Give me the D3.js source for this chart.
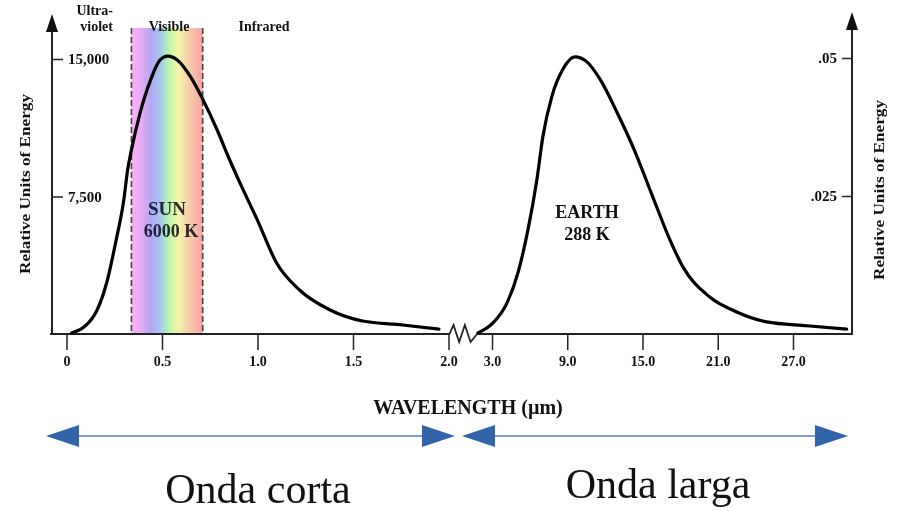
<!DOCTYPE html>
<html>
<head>
<meta charset="utf-8">
<script src="https://cdn.jsdelivr.net/npm/d3@7"></script>
<style>
	body { margin: 0; background: #fff; }
	svg { font-family: 'Liberation Serif', 'Times New Roman', serif; }
	.tick text { font-family: 'Liberation Serif', 'Times New Roman', serif; font-weight: bold; font-size: 14px; fill: #111; }
	.tick line { stroke: #222; stroke-width: 1.5; }
	.lbl { font-weight: bold; fill: #111; }
</style>
</head>
<body>
<script>
// short-wave (sun) curve, wavelength in µm and relative energy
const sunWavelength = [0.027, 0.14, 0.21, 0.26, 0.3, 0.32, 0.34, 0.385, 0.44, 0.49, 0.53, 0.58, 0.65, 0.71, 0.79, 0.85, 0.91, 1.0, 1.1, 1.22, 1.38, 1.55, 1.76, 1.95];
const sunEnergy = [50, 930, 2780, 5130, 7310, 8950, 10040, 12050, 13850, 14950, 15160, 14950, 14020, 12870, 11100, 9600, 8200, 6200, 3870, 2400, 1310, 710, 490, 270];

// long-wave (earth) curve
const earthWavelength = [1.88, 3.08, 4.19, 5.07, 5.87, 6.58, 7.06, 7.78, 8.66, 9.61, 10.57, 11.6, 13.04, 14.39, 15.74, 17.18, 18.21, 20.36, 22.51, 24.9, 28.09, 31.28];
const earthEnergy = [0.0002, 0.002, 0.0056, 0.0111, 0.0189, 0.028, 0.0358, 0.0431, 0.048, 0.0502, 0.0493, 0.0462, 0.0398, 0.0331, 0.0253, 0.0171, 0.0122, 0.0067, 0.004, 0.0022, 0.0015, 0.0009];

const shortTicks = [0, 0.5, 1.0, 1.5, 2.0];
const longTicks = [3, 9, 15, 21, 27];
const leftTicks = [7500, 15000];
const rightTicks = [0.025, 0.05];
const rightTickLabels = ['.025', '.05'];
const visibleBand = [0.34, 0.713];

const width = 900;
const height = 511;
const base = 334;

const svg = d3
	.select('body')
	.append('svg')
	.attr('width', width)
	.attr('height', height);

const xShort = d3.scaleLinear().domain([0, 2]).range([66.5, 448.5]);
const xLong = d3.scaleLinear().domain([3, 27]).range([492, 793]);
const yLeft = d3.scaleLinear().domain([0, 15000]).range([base, 59]);
const yRight = d3.scaleLinear().domain([0, 0.05]).range([base, 58]);

const leftAxisX = 52;
const rightAxisX = 852;

// rainbow band for visible light
const defs = svg.append('defs');
const grad = defs.append('linearGradient').attr('id', 'rainbow');
[
	[0, '#fbb0fa'], [0.12, '#eeaaf6'], [0.28, '#b0a8f2'], [0.4, '#a8c4ee'],
	[0.48, '#a8ecc0'], [0.56, '#ccf6a6'], [0.66, '#f6f4ac'], [0.8, '#f8d0aa'], [1, '#f8a2a2'],
].forEach(s => grad.append('stop').attr('offset', s[0]).attr('stop-color', s[1]));

svg
	.append('rect')
	.attr('x', xShort(visibleBand[0]))
	.attr('y', 28)
	.attr('width', xShort(visibleBand[1]) - xShort(visibleBand[0]))
	.attr('height', base - 28)
	.style('fill', 'url(#rainbow)');

visibleBand.forEach(v => {
	svg
		.append('line')
		.attr('x1', xShort(v))
		.attr('x2', xShort(v))
		.attr('y1', 28)
		.attr('y2', base)
		.attr('stroke', '#444')
		.attr('stroke-width', 1.6)
		.attr('stroke-dasharray', '6,3');
});

// x axes
svg
	.append('g')
	.attr('transform', `translate(0,${base})`)
	.call(d3.axisBottom(xShort).tickValues(shortTicks).tickSize(16).tickPadding(6)
		.tickFormat(d => (d === 0 ? '0' : d3.format('.1f')(d))))
	.call(g => g.select('.domain').remove());

svg
	.append('g')
	.attr('transform', `translate(0,${base})`)
	.call(d3.axisBottom(xLong).tickValues(longTicks).tickSize(16).tickPadding(6)
		.tickFormat(d3.format('.1f')))
	.call(g => g.select('.domain').remove());

// left y axis, labels inside
svg
	.append('g')
	.attr('transform', `translate(${leftAxisX},0)`)
	.call(d3.axisRight(yLeft).tickValues(leftTicks).tickSize(11).tickPadding(5)
		.tickFormat(d3.format(',')))
	.call(g => g.select('.domain').remove())
	.selectAll('text')
	.style('font-size', '15px');

// right y axis
svg
	.append('g')
	.attr('transform', `translate(${rightAxisX},0)`)
	.call(d3.axisLeft(yRight).tickValues(rightTicks).tickSize(10).tickPadding(5)
		.tickFormat((d, i) => rightTickLabels[i]))
	.call(g => g.select('.domain').remove())
	.selectAll('text')
	.style('font-size', '15px');

// baselines and vertical axes
const ink = '#222';
svg.append('line').attr('x1', leftAxisX - 2).attr('x2', xShort(2) + 1)
	.attr('y1', base).attr('y2', base).attr('stroke', ink).attr('stroke-width', 2);
svg.append('line').attr('x1', xLong(1.88)).attr('x2', rightAxisX + 1)
	.attr('y1', base).attr('y2', base).attr('stroke', ink).attr('stroke-width', 2);
svg.append('line').attr('x1', leftAxisX).attr('x2', leftAxisX)
	.attr('y1', base + 1).attr('y2', 28).attr('stroke', ink).attr('stroke-width', 2);
svg.append('line').attr('x1', rightAxisX).attr('x2', rightAxisX)
	.attr('y1', base + 1).attr('y2', 28).attr('stroke', ink).attr('stroke-width', 2);

[[leftAxisX, 14], [rightAxisX, 12]].forEach(([x, tip]) => {
	svg
		.append('path')
		.attr('d', `M${x},${tip}L${x - 6},${tip + 18}L${x + 6},${tip + 18}Z`)
		.attr('fill', '#111');
});

// axis break zigzag between the two scales
const zx0 = xShort(2) + 1;
const zx1 = xLong(1.88);
const zs = (zx1 - zx0) / 5;
svg
	.append('path')
	.attr('d', `M${zx0},${base}L${zx0 + zs * 0.7},${base - 9}L${zx0 + zs * 1.7},${base + 8}L${zx0 + zs * 2.7},${base - 9}L${zx0 + zs * 3.7},${base + 8}L${zx1},${base - 1}`)
	.attr('fill', 'none')
	.attr('stroke', ink)
	.attr('stroke-width', 1.8);

// curves
const sunLine = d3
	.line()
	.x(d => xShort(d[0]))
	.y(d => yLeft(d[1]))
	.curve(d3.curveMonotoneX);

const earthLine = d3
	.line()
	.x(d => xLong(d[0]))
	.y(d => yRight(d[1]))
	.curve(d3.curveMonotoneX);

svg
	.append('path')
	.datum(d3.zip(sunWavelength, sunEnergy))
	.attr('d', sunLine)
	.attr('fill', 'none')
	.attr('stroke', '#000')
	.attr('stroke-width', 3.2)
	.attr('stroke-linecap', 'round');

svg
	.append('path')
	.datum(d3.zip(earthWavelength, earthEnergy))
	.attr('d', earthLine)
	.attr('fill', 'none')
	.attr('stroke', '#000')
	.attr('stroke-width', 3.2)
	.attr('stroke-linecap', 'round');

// header labels
const header = [
	{ t: 'Ultra-', x: 113, y: 15, a: 'end' },
	{ t: 'violet', x: 113, y: 31, a: 'end' },
	{ t: 'Visible', x: 169, y: 31, a: 'middle' },
	{ t: 'Infrared', x: 264, y: 31, a: 'middle' },
];
header.forEach(h => {
	svg.append('text').attr('class', 'lbl').attr('x', h.x).attr('y', h.y)
		.attr('text-anchor', h.a).style('font-size', '14px').text(h.t);
});

// curve labels
svg.append('text').attr('class', 'lbl').attr('x', 167).attr('y', 215)
	.attr('text-anchor', 'middle').style('font-size', '19px')
	.style('fill', '#2e2e40').style('mix-blend-mode', 'multiply').text('SUN');
svg.append('text').attr('class', 'lbl').attr('x', 171).attr('y', 237)
	.attr('text-anchor', 'middle').style('font-size', '18px')
	.style('fill', '#2e2e40').style('mix-blend-mode', 'multiply').text('6000 K');
svg.append('text').attr('class', 'lbl').attr('x', 587).attr('y', 218)
	.attr('text-anchor', 'middle').style('font-size', '18px').text('EARTH');
svg.append('text').attr('class', 'lbl').attr('x', 587).attr('y', 240)
	.attr('text-anchor', 'middle').style('font-size', '18px').text('288 K');

// y labels
[[30, 184], [884, 190]].forEach(([x, y]) => {
	svg
		.append('text')
		.attr('class', 'lbl')
		.attr('transform', `translate(${x},${y}) rotate(-90)`)
		.attr('text-anchor', 'middle')
		.attr('textLength', 180)
		.attr('lengthAdjust', 'spacingAndGlyphs')
		.style('font-size', '14px')
		.text('Relative Units of Energy');
});

svg.append('text').attr('class', 'lbl').attr('x', 468).attr('y', 414)
	.attr('text-anchor', 'middle').style('font-size', '20px').text('WAVELENGTH (\u00b5m)');

// double arrows under the axis
const arrowY = 436;
const spans = [[46, 455], [462, 848]];
const blue = '#3164a8';
spans.forEach(([a, b]) => {
	svg.append('line').attr('x1', a + 20).attr('x2', b - 20)
		.attr('y1', arrowY).attr('y2', arrowY)
		.attr('stroke', '#7c9fd0').attr('stroke-width', 2);
	svg.append('path').attr('d', `M${a},${arrowY}L${a + 33},${arrowY - 11}L${a + 33},${arrowY + 11}Z`).attr('fill', blue);
	svg.append('path').attr('d', `M${b},${arrowY}L${b - 33},${arrowY - 11}L${b - 33},${arrowY + 11}Z`).attr('fill', blue);
});

svg.append('text').attr('x', 258).attr('y', 503).attr('text-anchor', 'middle')
	.style('font-size', '42px').style('fill', '#111').text('Onda corta');
svg.append('text').attr('x', 658).attr('y', 498).attr('text-anchor', 'middle')
	.style('font-size', '42px').style('fill', '#111').text('Onda larga');
</script>
</body>
</html>
